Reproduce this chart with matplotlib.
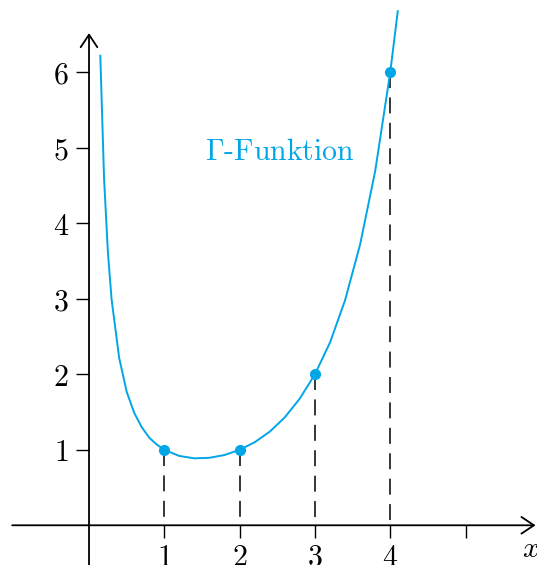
import numpy as np
import matplotlib
matplotlib.use("Agg")
import matplotlib.pyplot as plt

plt.rcParams["mathtext.fontset"] = "cm"
plt.rcParams["lines.scale_dashes"] = False

# Gamma function, sampled points along the curve
gamma_x = [0.15, 0.2, 0.25, 0.3, 0.4, 0.5, 0.6, 0.7, 0.8, 0.9, 1.0,
           1.2, 1.4, 1.6, 1.8, 2.0, 2.2, 2.4, 2.6, 2.8, 3.0,
           3.2, 3.4, 3.6, 3.8, 4.0, 4.1]
gamma_y = [6.22, 4.59, 3.63, 2.99, 2.22, 1.77, 1.49, 1.30, 1.16, 1.07, 1.0,
           0.918, 0.887, 0.894, 0.931, 1.0, 1.10, 1.24, 1.43, 1.68, 2.0,
           2.42, 2.98, 3.72, 4.69, 6.0, 6.81]

# factorials: Gamma(n) = (n-1)!
fact_x = [1, 2, 3, 4]
fact_y = [1, 1, 2, 6]

xticks = [1, 2, 3, 4, 5]
xtick_labels = ["$1$", "$2$", "$3$", "$4$", ""]
yticks = [1, 2, 3, 4, 5, 6]
ytick_labels = ["$%d$" % v for v in yticks]

blue = "#00a6e6"
fs = 21.5

fig = plt.figure(figsize=(5.37, 5.65), dpi=100)
ax = fig.add_axes([0, 0, 1, 1])
ax.set_xlim(-1.182, 5.949)
ax.set_ylim(-0.526, 6.958)
ax.patch.set_visible(False)

for side in ["left", "bottom"]:
    ax.spines[side].set_position(("data", 0))
for side in ax.spines:
    ax.spines[side].set_visible(False)

# axes with open arrow heads
arrow = dict(arrowstyle="->,head_length=0.45,head_width=0.3", lw=1.3,
             color="black", mutation_scale=20, shrinkA=0, shrinkB=0)
ax.annotate("", xy=(5.93, 0), xytext=(-1.02, 0), arrowprops=arrow)
ax.annotate("", xy=(0, 6.52), xytext=(0, -0.6), arrowprops=arrow)

ax.set_xticks(xticks, xtick_labels)
ax.set_yticks(yticks, ytick_labels)
ax.tick_params(axis="both", direction="out", length=9.5, width=1.0,
               labelsize=fs, color="black")
ax.tick_params(axis="x", pad=3)
ax.tick_params(axis="y", pad=5)

ax.vlines(fact_x, fact_y, [0] * len(fact_x), colors="black", lw=1.1,
          linestyles=[(0, (11.5, 6.8))], zorder=2)
ax.plot(gamma_x, gamma_y, color=blue, lw=1.4, zorder=3)
ax.plot(fact_x, fact_y, "o", color=blue, ms=7, zorder=4)

ax.text(1.54, 4.84, r"$\Gamma$-Funktion", color=blue, fontsize=fs,
        family="cmr10", ha="left", va="baseline")
ax.text(5.75, -0.27, "$x$", fontsize=fs, ha="left", va="center_baseline")

fig.savefig("out.png", dpi=100)
